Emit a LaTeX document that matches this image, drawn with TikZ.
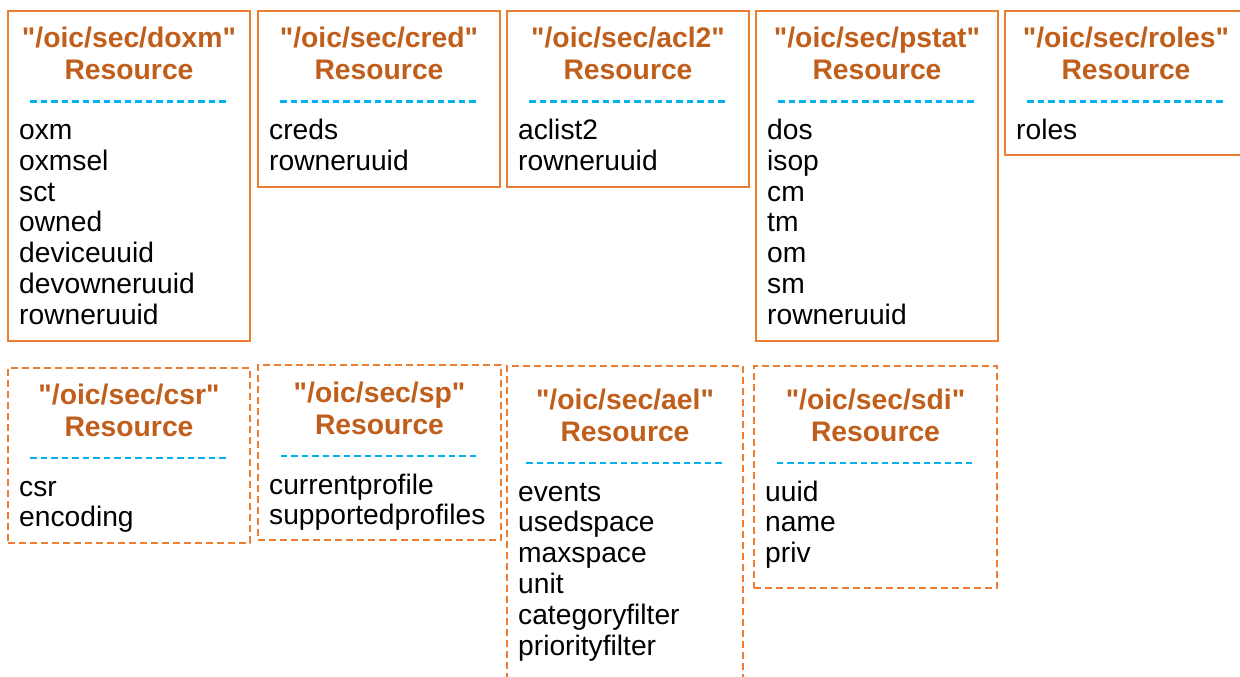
\documentclass[tikz,border=0pt]{standalone}
\usepackage{fontspec}
\setmainfont{Liberation Sans}[Ligatures=TeXOff]
\definecolor{boxorange}{RGB}{237,125,49}
\definecolor{titlebrown}{RGB}{192,94,28}
\definecolor{sepblue}{RGB}{0,176,240}
\tikzset{
  resframe/.style={draw=boxorange, line width=2.6pt, inner sep=0pt, outer sep=0pt},
  solidframe/.style={resframe},
  dashframe/.style={resframe, line width=2.4pt, dash pattern=on 7pt off 4pt},
  restitle/.style={text=titlebrown, font=\fontsize{28.3}{32}\selectfont\bfseries, anchor=base, inner sep=0pt},
  resitem/.style={text=black, font=\fontsize{28.2}{30}\selectfont, anchor=base west, inner sep=0pt},
  sepline/.style={draw=sepblue, line width=2.6pt, dash pattern=on 6.5pt off 4pt},
}
% #1 name, #2 left, #3 top, #4 right, #5 bottom, #6 frame style, #7 path, #8 first title baseline, #9 items
\newcommand\resbox[9]{%
  \pgfmathsetmacro\rcx{(#2+#4)/2}%
  \pgfmathsetmacro\rcy{(#3+#5)/2}%
  \node[#6, minimum width={(#4-#2)*1pt}, minimum height={(#5-#3)*1pt}] (#1) at (\rcx,\rcy) {};
  \node[restitle] (#1-path) at (\rcx,#8) {"#7"};
  \node[restitle] (#1-res) at (\rcx,{#8+32}) {Resource};
  \draw[sepline] ({\rcx-99},{#8+54}) -- ({\rcx+99},{#8+54});
  \foreach \itm [count=\i] in {#9} {
    \node[resitem] (#1-item\i) at ({#2+11},{#8+92+(\i-1)*30.8}) {\itm};
  }
}
\begin{document}
\begin{tikzpicture}[x=1pt,y=-1pt]
\useasboundingbox (0,0) rectangle (1240,677);
\clip (0,0) rectangle (1240,677);
% top row
\resbox{doxm}{8}{11}{250}{341}{solidframe}{/oic/sec/doxm}{47.5}{oxm,oxmsel,sct,owned,deviceuuid,devowneruuid,rowneruuid}
\resbox{cred}{258}{11}{500}{187}{solidframe}{/oic/sec/cred}{47.5}{creds,rowneruuid}
\resbox{acl}{507}{11}{749}{187}{solidframe}{/oic/sec/acl2}{47.5}{aclist2,rowneruuid}
\resbox{pstat}{756}{11}{998}{341}{solidframe}{/oic/sec/pstat}{47.5}{dos,isop,cm,tm,om,sm,rowneruuid}
\resbox{roles}{1005}{11}{1247}{155}{solidframe}{/oic/sec/roles}{47.5}{roles}
% bottom row
\resbox{csr}{8}{368}{250}{543}{dashframe}{/oic/sec/csr}{404}{csr,encoding}
\resbox{sp}{258}{365}{501}{540}{dashframe}{/oic/sec/sp}{402}{currentprofile,supportedprofiles}
\resbox{ael}{507}{366}{743}{720}{dashframe}{/oic/sec/ael}{409}{events,usedspace,maxspace,unit,categoryfilter,priorityfilter}
\resbox{sdi}{754}{366}{997}{588}{dashframe}{/oic/sec/sdi}{409}{uuid,name,priv}
\end{tikzpicture}
\end{document}
